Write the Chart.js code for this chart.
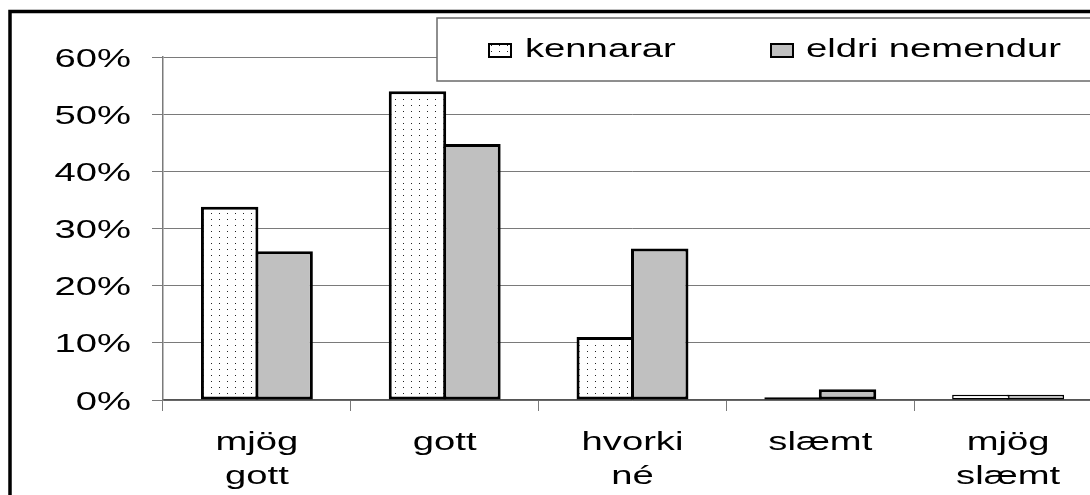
<!DOCTYPE html>
<html>
<head>
<meta charset="utf-8">
<script src="https://cdn.jsdelivr.net/npm/chart.js@4"></script>
<style>
  html, body { margin: 0; padding: 0; background: #fff; overflow: hidden; }
  canvas { display: block; }
</style>
</head>
<body>
<canvas id="answersChart" width="1102" height="495"></canvas>
<script>
const categories = [["mjög", "gott"], ["gott"], ["hvorki", "né"], ["slæmt"], ["mjög", "slæmt"]];
const seriesNames = ["kennarar", "eldri nemendur"];
const teachers = [33.8, 54, 11, 0.5, 0.9];
const olderStudents = [26, 44.8, 26.5, 1.9, 0.9];
const yTicks = [0, 10, 20, 30, 40, 50, 60];

const FONT = "26px 'Liberation Sans', Arial, sans-serif";
const STRETCH = 1.47;

// dotted fill like the old spreadsheet pattern
const tile = document.createElement("canvas");
tile.width = 8;
tile.height = 6;
const tctx = tile.getContext("2d");
tctx.fillStyle = "#ffffff";
tctx.fillRect(0, 0, 8, 6);
tctx.fillStyle = "#222222";
tctx.fillRect(3, 3, 1, 1);
const ctx = document.getElementById("answersChart").getContext("2d");
const dots = ctx.createPattern(tile, "repeat");

function stretchedText(c, text, x, y, align) {
  c.save();
  c.translate(x, y);
  c.scale(STRETCH, 1);
  c.textAlign = align;
  c.textBaseline = "alphabetic";
  c.fillText(text, 0, 0);
  c.restore();
}

// thin bars keep a thinner outline so the fill still shows
function outline(context) {
  const v = context.raw;
  if (v !== undefined && v < 0.7) return 3;
  return v !== undefined && v < 1.5 ? 1.5 : 3;
}

const frameAndText = {
  id: "frameAndText",
  beforeDraw(chart) {
    const c = chart.ctx;
    c.save();
    c.fillStyle = "#ffffff";
    c.fillRect(0, 0, chart.width, chart.height);
    c.strokeStyle = "#000000";
    c.lineWidth = 3.5;
    c.strokeRect(10, 11.5, chart.width + 50, chart.height + 50);
    c.restore();
  },
  afterDraw(chart) {
    const c = chart.ctx;
    const x = chart.scales.x;
    const y = chart.scales.y;
    c.save();
    c.font = FONT;
    c.fillStyle = "#000000";

    y.ticks.forEach((t, i) => {
      stretchedText(c, t.value + "%", 131, y.getPixelForTick(i) + 9.5, "right");
    });

    categories.forEach((lines, i) => {
      const cx = x.getPixelForValue(i);
      lines.forEach((line, j) => {
        stretchedText(c, line, cx, 450 + j * 34, "center");
      });
    });

    // legend box
    c.fillStyle = "#ffffff";
    c.fillRect(437, 18, chart.width, 63);
    c.strokeStyle = "#6a6a6a";
    c.lineWidth = 1.5;
    c.strokeRect(437, 18, chart.width, 63);

    const keys = [
      { kx: 489, tx: 525 },
      { kx: 771, tx: 806 },
    ];
    chart.data.datasets.forEach((ds, i) => {
      const k = keys[i];
      c.fillStyle = ds.backgroundColor;
      c.fillRect(k.kx, 44, 22, 13);
      c.strokeStyle = "#000000";
      c.lineWidth = 2;
      c.strokeRect(k.kx, 44, 22, 13);
      c.fillStyle = "#000000";
      stretchedText(c, ds.label, k.tx, 57, "left");
    });
    c.restore();
  },
};

new Chart(ctx, {
  type: "bar",
  data: {
    labels: categories,
    datasets: [
      {
        label: seriesNames[0],
        data: teachers,
        backgroundColor: dots,
        borderColor: "#000000",
        borderWidth: outline,
        borderSkipped: false,
        categoryPercentage: 0.58,
        barPercentage: 1.055,
      },
      {
        label: seriesNames[1],
        data: olderStudents,
        backgroundColor: "#c0c0c0",
        borderColor: "#000000",
        borderWidth: outline,
        borderSkipped: false,
        categoryPercentage: 0.58,
        barPercentage: 1.055,
      },
    ],
  },
  options: {
    responsive: false,
    devicePixelRatio: 1,
    animation: false,
    layout: { padding: { top: 57, left: 0, right: 0, bottom: 0 } },
    scales: {
      x: {
        grid: {
          drawOnChartArea: false,
          drawTicks: true,
          tickLength: 11,
          color: "#7a7a7a",
        },
        border: { display: true, color: "#555555", width: 1.5 },
        ticks: { color: "rgba(0,0,0,0)", font: { size: 26 } },
        afterFit(scale) {
          scale.height = 95;
        },
      },
      y: {
        min: 0,
        max: 60,
        afterBuildTicks(scale) {
          scale.ticks = yTicks.map((v) => ({ value: v }));
        },
        grid: {
          color: "#7a7a7a",
          lineWidth: 1,
          drawTicks: true,
          tickLength: 11,
        },
        border: { display: true, color: "#7a7a7a", width: 1.5 },
        ticks: { color: "rgba(0,0,0,0)", font: { size: 26 } },
        afterFit(scale) {
          scale.width = 163;
        },
      },
    },
    plugins: {
      legend: { display: false },
      tooltip: { enabled: false },
    },
  },
  plugins: [frameAndText],
});
</script>
</body>
</html>
